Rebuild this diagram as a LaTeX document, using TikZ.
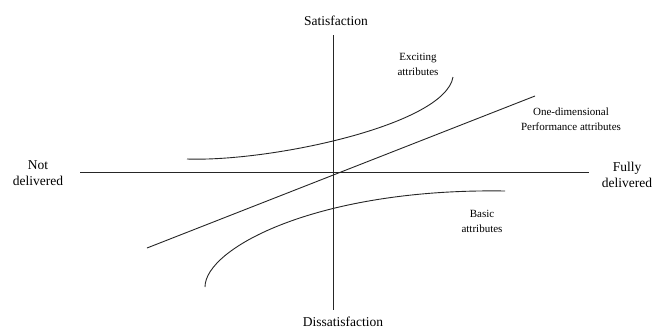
\documentclass[tikz,border=0pt]{standalone}
\usepackage{fontspec}
\setmainfont{Liberation Serif}
\begin{document}
\begin{tikzpicture}[x=1pt,y=-1pt,
  axis/.style={line width=0.9pt,draw=black!85},
  curve/.style={line width=0.9pt,draw=black!85},
  axislabel/.style={font=\fontsize{13.5}{16.5}\selectfont,align=center,inner sep=0pt},
  curvelabel/.style={font=\fontsize{11}{15}\selectfont,align=center,inner sep=0pt}]
\useasboundingbox[fill=white] (0,0) rectangle (654,330);
% axes
\coordinate (xl) at (80,172);
\coordinate (xr) at (589,172);
\coordinate (yt) at (333,35);
\coordinate (yb) at (333,310);
\draw[axis] (xl) -- (xr);
\draw[axis] (yt) -- (yb);
% axis labels
\node[axislabel] (sat) at (336,21) {Satisfaction};
\node[axislabel] (dis) at (343,322) {Dissatisfaction};
\node[axislabel] (notdel) at (38,173) {Not\\delivered};
\node[axislabel] (fulldel) at (627,175) {Fully\\delivered};
% attribute curves
\coordinate (e0) at (187,159);
\coordinate (e1) at (453,77);
\draw[curve] (e0) .. controls (270,162) and (445,125) .. (e1);
\coordinate (p0) at (147,248);
\coordinate (p1) at (535,96);
\draw[curve] (p0) -- (p1);
\coordinate (b0) at (205,287);
\coordinate (b1) at (505,191);
\draw[curve] (b0) .. controls (205,248) and (318,188) .. (b1);
% attribute labels
\node[curvelabel] (exc) at (418,64) {Exciting\\attributes};
\node[curvelabel] (one) at (571,119) {One-dimensional\\Performance attributes};
\node[curvelabel] (bas) at (482,221) {Basic\\attributes};
\end{tikzpicture}
\end{document}
